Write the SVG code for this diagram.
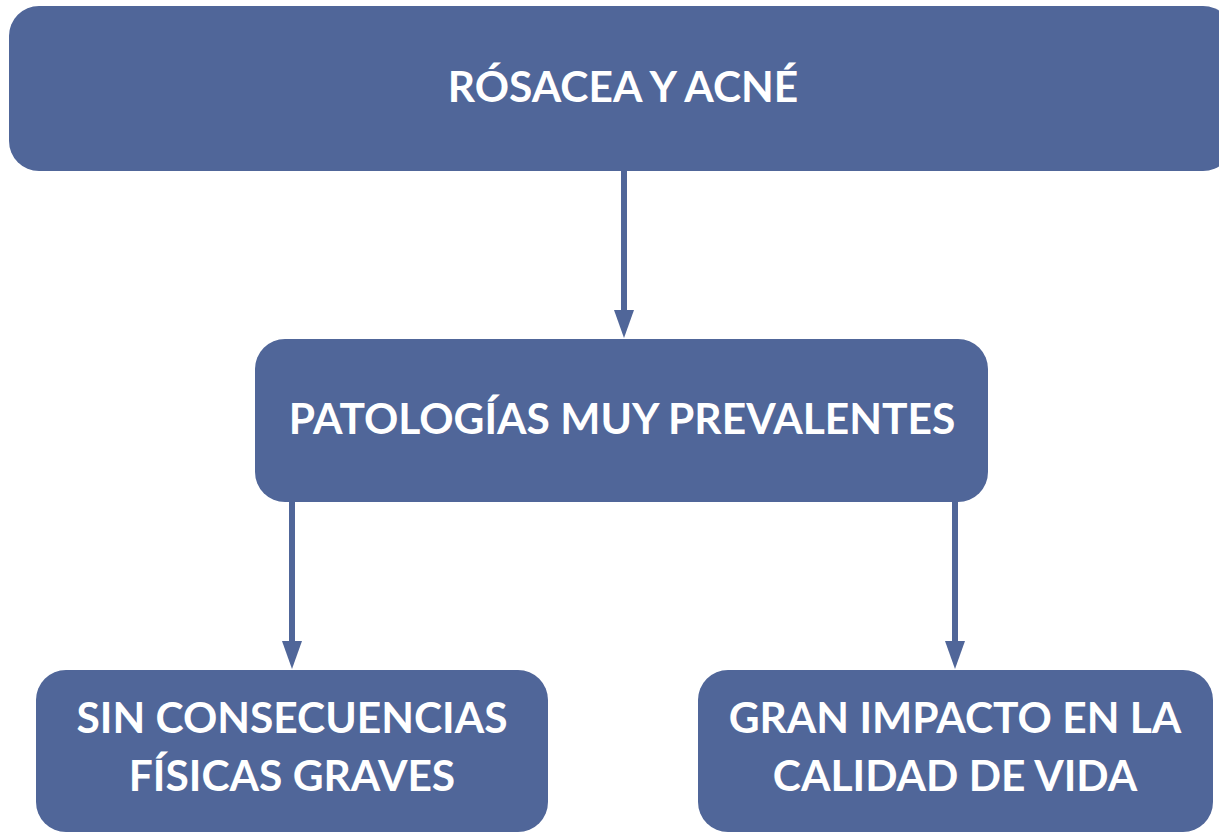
<svg xmlns="http://www.w3.org/2000/svg" width="1219" height="832" viewBox="0 0 1219 832">
<defs>
<style>
.box{fill:#506699;}
.t{font-family:Lato,"Liberation Sans",sans-serif;font-weight:bold;font-size:42.5px;fill:#ffffff;text-anchor:middle;}
.c{stroke:#506699;stroke-width:6;fill:none;}
.ah{fill:#506699;}
</style>
</defs>
<rect width="1219" height="832" fill="#ffffff"/>
<g id="connectors">
<line class="c" x1="624" y1="171" x2="624" y2="312"/>
<path class="ah" d="M614,310 L634,310 L624,338 Z"/>
<line class="c" x1="292" y1="502" x2="292" y2="643"/>
<path class="ah" d="M282,641 L302,641 L292,669 Z"/>
<line class="c" x1="955" y1="502" x2="955" y2="643"/>
<path class="ah" d="M945,641 L965,641 L955,669 Z"/>
</g>
<g id="n1">
<rect class="box" x="9" y="6" width="1224" height="165" rx="30"/>
<text class="t" x="623" y="102">RÓSACEA Y ACNÉ</text>
</g>
<g id="n2">
<rect class="box" x="255" y="339" width="733" height="163" rx="30"/>
<text class="t" x="622" y="434">PATOLOGÍAS MUY PREVALENTES</text>
</g>
<g id="n3">
<rect class="box" x="36" y="670" width="512" height="162" rx="30"/>
<text class="t" x="292" y="733">SIN CONSECUENCIAS</text>
<text class="t" x="292" y="791">FÍSICAS GRAVES</text>
</g>
<g id="n4">
<rect class="box" x="698" y="670" width="515" height="162" rx="30"/>
<text class="t" x="955" y="733">GRAN IMPACTO EN LA</text>
<text class="t" x="955" y="791">CALIDAD DE VIDA</text>
</g>
</svg>
